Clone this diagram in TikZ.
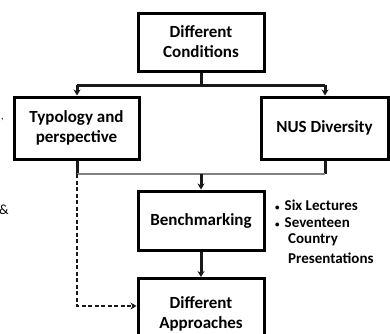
\documentclass[tikz,border=0pt]{standalone}
\usepackage{fontspec}
\setmainfont{Carlito}
\usetikzlibrary{arrows.meta}
\begin{document}
\begin{tikzpicture}[x=1pt,y=-1pt,
  box/.style={draw=black, line width=3pt, fill=white, align=center, inner sep=0pt, font=\bfseries\fontsize{17}{20}\selectfont},
  conn/.style={line width=3pt, draw=black!90},
  arr/.style={conn, -{Stealth[length=6pt,width=7pt]}},
  dashline/.style={line width=2.6pt, draw=black!90, dashed, dash pattern=on 4pt off 2.5pt, -{Stealth[length=6pt,width=7pt]}},
  bl/.style={anchor=west, inner sep=0pt, font=\bfseries\fontsize{15}{18}\selectfont, align=left}]
\useasboundingbox (0,0) rectangle (390,333);
\fill[white] (0,0) rectangle (390,333);
\node[box, minimum width=126, minimum height=58] (dc) at (201,42) {Different\\Conditions};
\node[box, minimum width=125, minimum height=62] (ty) at (76.5,128) {Typology and\\perspective};
\node[box, minimum width=127, minimum height=62] (nus) at (324.5,128) {NUS Diversity};
\node[box, minimum width=126, minimum height=59] (bm) at (201,220.5) {Benchmarking};
\node[box, minimum width=126, minimum height=70, anchor=north] (da) at (201,277) {Different\\Approaches};
\coordinate (j1) at (201,85);
\coordinate (l1) at (77,85);
\coordinate (r1) at (325,85);
\coordinate (l2) at (77,174);
\coordinate (r2) at (325,174);
\coordinate (c2) at (201,174);
\coordinate (dl) at (77,306);
\draw[conn] (dc.south) -- (j1);
\draw[conn] (l1) -- (r1);
\draw[arr] (l1) -- (l1 |- ty.north);
\draw[arr] (r1) -- (r1 |- nus.north);
\draw[conn] (ty.south -| l2) -- (l2);
\draw[conn] (nus.south -| r2) -- (r2);
\draw[line width=2.6pt, draw=black!50] (l2) -- (r2);
\draw[arr] (c2) -- (bm.north);
\draw[arr] (bm.south) -- (da.north);
\draw[dashline] (l2) -- (dl) -- (dl -| da.west);
\node[bl] (b1) at (275,205) {{\fontsize{9}{9}\selectfont\textbullet}\hspace{5pt}Six Lectures};
\node[bl] (b2) at (275,222.5) {{\fontsize{9}{9}\selectfont\textbullet}\hspace{5pt}Seventeen};
\node[bl] (b3) at (288,240) {Country};
\node[bl] (b4) at (288,258) {Presentations};
\node[anchor=west, inner sep=0pt, font=\fontsize{10}{12}\selectfont] (cm) at (1,120) {,};
\node[anchor=west, inner sep=0pt, font=\fontsize{14}{16}\selectfont] (amp) at (-1,210) {\&};
\end{tikzpicture}
\end{document}
